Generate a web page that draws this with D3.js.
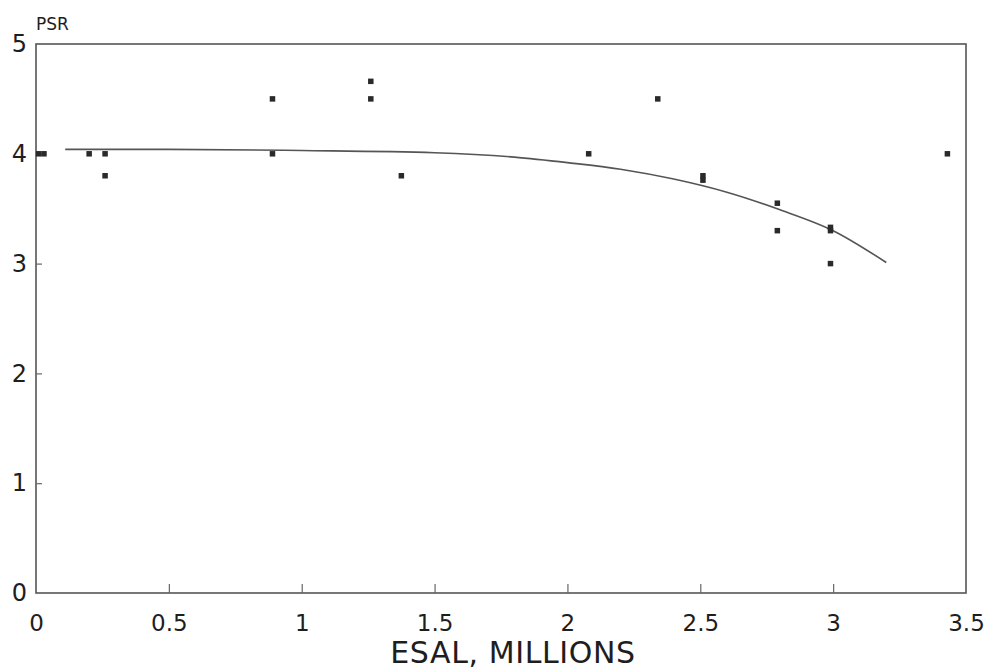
<!DOCTYPE html>
<html>
<head>
<meta charset="utf-8">
<script src="https://cdn.jsdelivr.net/npm/d3@7"></script>
<style>
  body { margin: 0; background: #fff; }
  text { font-family: "DejaVu Sans", sans-serif; fill: #1e1e1e; }
</style>
</head>
<body>
<div id="chart"></div>
<script>
// observed points (ESAL in millions, PSR)
const esal = [0.01, 0.03, 0.2, 0.26, 0.26, 0.89, 0.89, 1.26, 1.26, 1.375, 2.08, 2.34, 2.51, 2.51, 2.79, 2.79, 2.99, 2.99, 2.99, 3.43];
const psr  = [4.0,  4.0,  4.0, 4.0,  3.8,  4.5,  4.0,  4.66, 4.5,  3.8,   4.0,  4.5,  3.8,  3.76, 3.55, 3.3,  3.33, 3.3,  3.0,  4.0];

// fitted curve
const curveEsal = [0.11, 0.5, 1.0, 1.5, 1.8, 2.0, 2.2, 2.4, 2.6, 2.8, 3.0, 3.2];
const curvePsr  = [4.04, 4.04, 4.03, 4.01, 3.97, 3.92, 3.86, 3.77, 3.65, 3.49, 3.30, 3.01];

const xTicks = [0, 0.5, 1, 1.5, 2, 2.5, 3, 3.5];
const yTicks = [0, 1, 2, 3, 4, 5];

const width = 986, height = 672;
const margin = { top: 44, right: 20, bottom: 79, left: 36 };
const plotW = width - margin.left - margin.right;
const plotH = height - margin.top - margin.bottom;

const svg = d3.select("#chart").append("svg")
    .attr("width", width)
    .attr("height", height);

const g = svg.append("g")
    .attr("transform", `translate(${margin.left},${margin.top})`);

const x = d3.scaleLinear().domain([0, 3.5]).range([0, plotW]);
const y = d3.scaleLinear().domain([0, 5]).range([plotH, 0]);

// frame
g.append("rect")
    .attr("width", plotW)
    .attr("height", plotH)
    .attr("fill", "none")
    .attr("stroke", "#555")
    .attr("stroke-width", 1.6);

// x axis: inward ticks, labels below
const xAxis = g.append("g")
    .attr("transform", `translate(0,${plotH})`)
    .call(d3.axisBottom(x).tickValues(xTicks).tickSizeInner(-9).tickSizeOuter(0).tickPadding(22).tickFormat(d3.format("")));
xAxis.select(".domain").remove();
xAxis.selectAll("line").attr("stroke", "#666").attr("stroke-width", 1.2);
xAxis.selectAll("line").filter(d => d === 0 || d === 3.5).remove();
xAxis.selectAll("text").style("font-size", "23px").attr("fill", "#1e1e1e");

// y axis
const yAxis = g.append("g")
    .call(d3.axisLeft(y).tickValues(yTicks).tickSizeInner(-6).tickSizeOuter(0).tickPadding(9).tickFormat(d3.format("d")));
yAxis.select(".domain").remove();
yAxis.selectAll("line").attr("stroke", "#666").attr("stroke-width", 1.2);
yAxis.selectAll("line").filter(d => d === 0 || d === 5).remove();
yAxis.selectAll("text").style("font-size", "24px").attr("fill", "#1e1e1e");

// fitted curve
const pts = curveEsal.map((v, i) => [v, curvePsr[i]]);
g.append("path")
    .datum(pts)
    .attr("fill", "none")
    .attr("stroke", "#555")
    .attr("stroke-width", 1.6)
    .attr("d", d3.line().x(d => x(d[0])).y(d => y(d[1])).curve(d3.curveMonotoneX));

// data markers
const s = 5.5;
g.append("g")
    .selectAll("rect")
    .data(esal.map((v, i) => ({ esal: v, psr: psr[i] })))
    .join("rect")
    .attr("x", d => x(d.esal) - s / 2)
    .attr("y", d => y(d.psr) - s / 2)
    .attr("width", s)
    .attr("height", s)
    .attr("fill", "#2a2a2a");

// labels
svg.append("text")
    .attr("x", margin.left)
    .attr("y", 30)
    .style("font-size", "17px")
    .text("PSR");

svg.append("text")
    .attr("x", margin.left + plotW / 2 + 12)
    .attr("y", 663)
    .attr("text-anchor", "middle")
    .style("font-size", "30px")
    .style("letter-spacing", "0.6px")
    .text("ESAL, MILLIONS");
</script>
</body>
</html>
